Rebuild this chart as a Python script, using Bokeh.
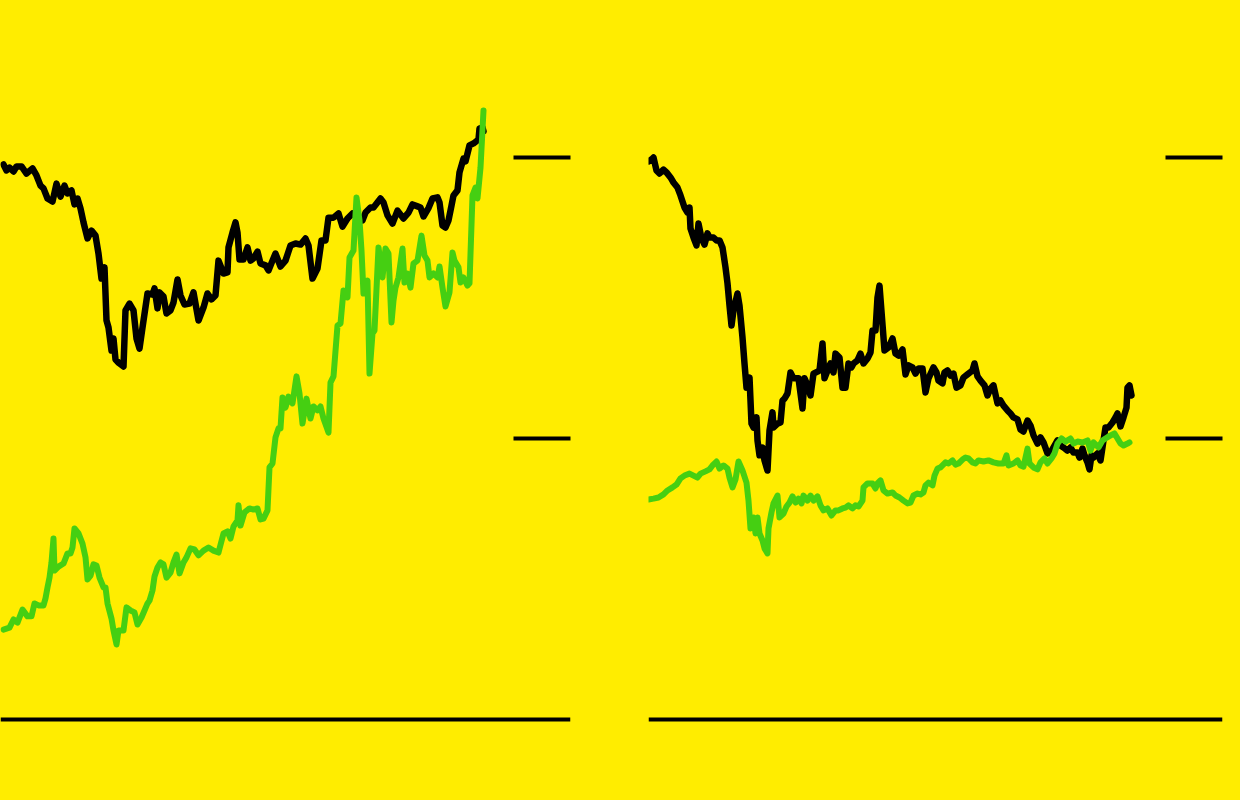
from bokeh.plotting import figure
from bokeh.layouts import row
from bokeh.models import (ColumnDataSource, Range1d, LinearAxis, FixedTicker,
                          Span, CustomJSTickFormatter, GlobalInlineStyleSheet)
from bokeh.embed import file_html
from bokeh.resources import INLINE

BG = "#FFED00"
GREEN = "#45CF12"
BLACK = "#000000"

# ---------------- data ----------------
grid_levels = [100, 200]
baseline = 0

left_black_t = [0,3,6,10,13,18,23,29,33,37,40,44,49,53,57,61,64,68,71,74,77,80,84,88,92,95,98,101,103,105,
                108,110,112,115,120,122,126,130,133,136,139,144,149,151,154,156,160,163,167,170,174,177,181,186,
                190,195,200,204,208,212,215,220,224,225,229,232,234,236,240,244,247,250,254,257,262,265,269,272,
                277,282,287,292,297,302,305,309,314,318,322,325,330,335,339,344,349,354,359,362,367,370,377,380,
                384,389,394,400,405,409,414,417,420,425,429,434,436,439,442,445,448,450,454,456,460,462,466,470,
                475,476,479,480]
left_black = [197.5,195.4,196.4,195.0,196.8,196.8,194.3,196.1,193.6,190.0,189.0,185.4,184.3,190.7,186.1,190.0,
              187.2,188.3,183.3,185.4,181.9,176.9,171.2,174.0,172.2,165.8,156.9,160.9,142.0,139.5,131.3,135.6,
              128.1,127.0,125.6,145.6,148.0,145.6,135.6,132.0,139.5,151.6,151.2,153.4,146.3,152.0,150.5,144.5,
              145.6,148.4,156.6,150.9,147.7,148.0,152.0,142.0,146.6,151.6,149.5,150.9,163.3,158.7,159.1,168.0,
              173.3,176.9,173.3,163.7,163.7,168.0,163.3,164.1,166.5,162.3,161.6,159.8,163.3,165.8,161.2,163.3,
              168.7,169.4,169.0,171.2,168.7,156.9,160.5,170.5,170.5,178.6,178.6,180.1,175.4,178.3,180.1,178.6,
              177.6,180.4,182.2,182.2,185.4,184.0,179.4,176.5,181.1,178.3,180.4,183.3,182.6,182.2,179.0,182.0,
              185.4,185.8,184.0,175.8,175.1,177.6,182.9,186.5,188.3,194.7,199.6,198.6,204.3,205.0,206.4,210.3,
              210.7,209.3]

left_green_t = [0,6,10,14,19,24,28,31,35,40,42,44,46,48,50,51,55,60,64,67,69,71,75,79,82,84,87,90,93,96,
                100,102,104,108,110,113,115,120,123,127,131,134,138,141,144,146,149,151,154,157,160,163,167,170,
                173,176,180,183,187,191,195,200,205,210,215,220,224,227,230,234,235,237,241,246,250,254,257,260,
                264,266,269,272,275,277,279,282,285,289,293,296,299,303,307,310,314,317,320,325,327,330,334,337,
                340,344,346,350,353,356,358,360,364,366,369,371,375,379,382,385,388,390,392,395,399,401,404,407,
                410,414,418,421,424,426,430,434,436,439,442,446,449,451,455,457,460,464,466,469,472,474,477,480]
left_green = [32.0,32.7,35.6,34.5,39.1,36.7,36.7,41.3,40.6,40.6,43.1,47.0,50.5,55.9,64.4,53.0,54.4,55.5,59.1,59.1,
              61.2,68.0,66.2,62.6,57.7,49.8,51.2,55.2,54.8,50.5,47.0,47.0,41.3,35.9,31.7,26.7,31.7,31.7,39.9,38.8,
              38.1,33.8,36.3,38.8,41.3,42.3,45.9,50.9,54.1,55.9,55.2,50.5,52.3,55.9,58.7,52.0,55.9,57.7,60.9,60.5,
              58.4,60.1,61.2,60.1,59.4,66.2,66.9,64.4,68.7,70.8,76.2,69.0,73.7,75.1,74.7,75.1,71.2,71.5,74.4,89.7,
              91.1,100.4,103.6,103.6,114.6,111.0,114.9,112.5,122.1,116.0,105.3,114.2,107.1,111.4,110.0,111.4,107.1,
              102.1,119.9,122.1,140.2,140.9,152.7,150.2,164.4,166.9,185.8,177.6,166.9,151.6,156.2,123.1,137.4,138.4,
              168.0,157.3,167.6,165.8,141.3,149.1,153.7,157.3,167.6,155.5,158.7,153.7,162.3,163.3,172.2,165.1,163.3,
              157.3,158.7,157.3,161.2,153.7,147.0,152.0,166.2,163.3,160.9,155.5,157.3,154.4,155.2,186.5,189.3,185.4,
              196.4,216.7]

right_black_t = [0,3,5,8,11,15,18,22,25,29,32,36,39,41,42,45,48,50,53,56,59,61,65,68,71,74,77,79,81,83,
                 85,89,91,94,96,98,101,103,105,108,109,111,114,116,119,121,124,125,129,132,134,136,139,142,145,
                 150,154,156,159,162,165,169,171,174,176,179,182,185,187,191,194,197,200,203,205,209,212,215,219,
                 222,224,227,229,231,236,240,244,247,250,254,257,260,264,267,270,274,277,280,285,288,290,294,296,
                 299,302,305,308,312,315,319,324,326,329,332,336,339,342,345,349,352,355,359,362,365,369,372,375,
                 379,382,385,389,392,395,399,402,405,409,412,415,419,422,425,429,431,434,436,439,441,443,445,449,
                 452,455,457,460,464,467,469,472,475,478,479,481,483]
right_black = [198.6,199.3,200.0,195.4,194.3,195.7,194.7,192.9,191.1,189.3,186.5,182.2,180.4,182.2,174.7,171.5,
               168.7,176.5,171.2,169.0,173.0,171.5,171.5,170.5,170.5,168.0,160.9,155.2,147.3,140.2,145.6,151.6,
               147.3,135.9,126.7,118.1,121.7,105.3,103.9,107.5,99.3,94.0,96.8,92.2,88.6,102.8,109.3,103.9,105.3,
               105.7,113.5,114.2,116.0,123.5,121.4,121.4,110.7,121.4,118.9,115.3,123.1,123.8,124.2,133.8,121.4,
               124.2,126.7,123.5,130.2,128.8,118.1,118.1,126.7,125.3,126.7,127.8,130.2,126.7,128.5,130.6,138.4,
               138.4,150.2,154.4,131.3,132.4,135.6,130.2,129.5,131.7,122.8,126.0,125.3,123.1,124.9,124.9,116.4,
               121.4,125.3,123.5,120.6,119.6,123.5,124.2,122.4,123.1,118.1,118.9,121.7,122.8,124.2,126.7,122.1,
               120.6,118.9,115.3,117.8,118.9,112.5,113.5,111.7,110.0,108.9,107.5,106.8,103.2,102.5,106.4,104.6,
               101.1,98.2,100.4,98.6,94.7,95.0,96.8,99.3,97.5,96.8,95.7,96.8,95.0,95.0,93.2,96.4,94.0,91.5,89.0,
               94.0,93.2,94.7,92.2,99.3,103.9,103.9,105.7,107.5,108.9,104.3,107.5,111.0,118.1,118.9,115.3]

right_green_t = [0,5,10,15,19,24,28,32,36,41,45,49,52,57,61,64,68,71,75,79,81,84,87,90,94,98,100,102,105,107,
                 109,111,114,116,119,120,123,125,129,131,135,138,141,144,147,150,153,155,159,162,165,169,172,175,
                 179,183,187,190,194,197,200,204,207,210,214,215,219,224,227,229,232,235,239,244,247,251,255,259,
                 262,265,269,272,275,277,280,284,286,289,292,297,300,304,307,310,314,317,320,324,327,330,335,340,
                 345,350,355,358,360,365,369,372,375,379,381,385,389,392,396,399,403,406,409,413,417,422,425,429,
                 434,439,442,445,450,454,457,462,466,469,472,475,479,481]
right_green = [78.3,78.6,79.0,80.1,81.5,82.6,83.6,85.8,86.8,87.5,86.8,86.1,87.5,88.3,89.0,90.4,91.8,89.3,90.4,89.3,
               86.1,82.6,85.4,91.8,88.6,84.3,77.9,68.0,71.9,66.2,71.9,66.2,63.7,60.9,59.1,68.0,73.7,76.9,79.7,71.9,
               73.3,75.8,77.2,79.4,77.2,78.6,76.9,79.7,77.9,79.7,77.9,79.4,76.2,74.4,75.1,72.6,74.4,74.4,75.1,75.4,
               76.2,75.1,76.2,75.8,77.9,82.6,84.0,84.0,82.2,84.0,85.1,81.5,80.4,80.8,79.7,79.0,77.9,76.9,77.2,79.7,
               80.4,80.1,80.8,83.3,84.3,83.3,86.8,89.3,89.7,91.5,91.1,92.2,90.7,91.1,92.5,93.2,92.9,91.5,91.1,92.2,
               91.8,92.2,91.5,91.1,91.1,94.0,90.4,91.1,92.2,90.4,90.0,96.4,91.1,89.7,89.0,91.5,92.9,91.1,92.9,94.7,
               98.2,100.0,98.9,100.0,98.2,98.9,98.6,99.3,95.7,98.6,96.8,99.3,100.0,101.1,101.8,100.0,98.2,97.5,98.2,
               98.6]

# ---------------- layout helpers ----------------
H = 800
Y_RANGE = (-28.83, 255.87)


def make_panel(width, xr, border_left, border_right, black_t, black_v, green_t, green_v, css=None):
    p = figure(width=width, height=H, output_backend="svg", toolbar_location=None,
               x_axis_location=None, y_axis_location=None,
               x_range=Range1d(*xr), y_range=Range1d(*Y_RANGE),
               min_border_left=border_left, min_border_right=border_right,
               min_border_top=0, min_border_bottom=0,
               background_fill_color=BG, border_fill_color=BG, outline_line_color=None)
    p.grid.grid_line_color = None

    # stub gridlines drawn as inward ticks of a label-less right axis
    ax = LinearAxis(ticker=FixedTicker(ticks=grid_levels),
                    formatter=CustomJSTickFormatter(code="return ''"),
                    axis_line_color=None, major_tick_in=57, major_tick_out=0,
                    major_tick_line_width=4, major_tick_line_color=BLACK,
                    minor_tick_line_color=None, major_label_standoff=0)
    p.add_layout(ax, "right")

    p.add_layout(Span(location=baseline, dimension="width", line_color=BLACK, line_width=4))

    p.line(x="t", y="v", source=ColumnDataSource(dict(t=black_t, v=black_v)),
           line_color=BLACK, line_width=6.5, line_join="round", line_cap="round")
    p.line(x="t", y="v", source=ColumnDataSource(dict(t=green_t, v=green_v)),
           line_color=GREEN, line_width=6, line_join="round", line_cap="round")
    if css is not None:
        p.stylesheets = [css]
    return p


page_css = GlobalInlineStyleSheet(css="html, body { margin: 0; padding: 0; background: %s; overflow: hidden; }" % BG)

p1 = make_panel(609, (-3, 567), 0, 39, left_black_t, left_black, left_green_t, left_green, css=page_css)
p2 = make_panel(631, (0, 574), 39, 18, right_black_t, right_black, right_green_t, right_green)

layout = row(p1, p2)
layout.spacing = 0

open("out.html", "w").write(file_html(layout, INLINE))
